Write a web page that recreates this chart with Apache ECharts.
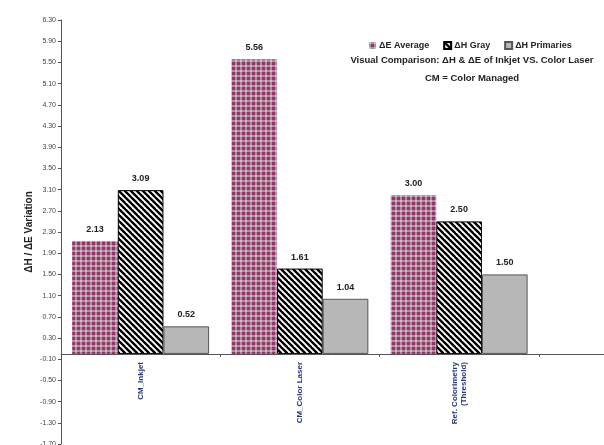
<!DOCTYPE html>
<html>
<head>
<meta charset="utf-8">
<script src="https://cdn.jsdelivr.net/npm/echarts@6/dist/echarts.min.js"></script>
<style>
  html, body { margin: 0; padding: 0; background: #fff; }
  #chart { width: 604px; height: 445px; }
</style>
</head>
<body>
<div id="chart"></div>
<script>
var categories = ['CM_Inkjet', 'CM_Color Laser', 'Ref. Colorimetry\n(Threshold)', ''];
var seriesNames = ['\u0394E Average', '\u0394H Gray', '\u0394H Primaries'];
var avgValues = [2.13, 5.56, 3.00];
var grayValues = [3.09, 1.61, 2.50];
var primValues = [0.52, 1.04, 1.50];
var yTicks = { min: -1.7, max: 6.3, step: 0.4 };

// fill patterns
function makeTile(size, draw) {
	var c = document.createElement('canvas');
	c.width = size; c.height = size;
	draw(c.getContext('2d'), size);
	return c;
}
var dotTile = makeTile(5, function(ctx, s) {
	ctx.fillStyle = '#a32c6a';
	ctx.fillRect(0, 0, s, s);
	ctx.fillStyle = '#a8929f';
	ctx.fillRect(0, 0, s, 2);
	ctx.fillRect(0, 0, 2, s);
	ctx.fillStyle = '#c9bcc4';
	ctx.fillRect(0, 0, 2, 2);
});
var hatchTile = makeTile(6, function(ctx, s) {
	ctx.fillStyle = '#fff';
	ctx.fillRect(0, 0, s, s);
	ctx.strokeStyle = '#000';
	ctx.lineWidth = 2.4;
	for (var k = -1; k <= 1; k++) {
		ctx.beginPath();
		ctx.moveTo(k * s - 1, -1);
		ctx.lineTo(k * s + s + 1, s + 1);
		ctx.stroke();
	}
});

var font = 'Liberation Sans, Arial, sans-serif';
var chart = echarts.init(document.getElementById('chart'));

function barSeries(name, values, itemStyle) {
	return {
		name: name,
		type: 'bar',
		data: values,
		barGap: '0%',
		barCategoryGap: '14%',
		itemStyle: itemStyle,
		label: {
			show: true,
			position: 'top',
			distance: 7,
			fontFamily: font,
			fontWeight: 'bold',
			fontSize: 9,
			color: '#222',
			formatter: function(p) { return p.value.toFixed(2); }
		}
	};
}

chart.setOption({
	animation: false,
	backgroundColor: '#fff',
	title: {
		text: 'Visual Comparison: \u0394H & \u0394E of Inkjet VS. Color Laser',
		subtext: 'CM = Color Managed',
		left: 467,
		textAlign: 'center',
		top: 50,
		itemGap: 8,
		textStyle: { fontFamily: font, fontWeight: 'bold', fontSize: 9.5, color: '#222' },
		subtextStyle: { fontFamily: font, fontWeight: 'bold', fontSize: 9.5, color: '#222' }
	},
	legend: {
		data: seriesNames,
		left: 364,
		top: 36,
		itemWidth: 7,
		itemHeight: 7,
		itemGap: 14,
		icon: 'rect',
		textStyle: { fontFamily: font, fontWeight: 'bold', fontSize: 9, color: '#222', padding: [0, 0, 0, -2] }
	},
	grid: {
		left: 61,
		top: 20,
		width: 637,
		bottom: 1,
		outerBoundsMode: 'none'
	},
	xAxis: {
		type: 'category',
		data: categories,
		axisLine: { onZero: true, lineStyle: { color: '#555', width: 1 } },
		axisTick: { show: true, length: 3, lineStyle: { color: '#555' } },
		axisLabel: {
			show: true,
			interval: 0,
			rotate: 90,
			margin: -82,
			fontFamily: font,
			fontWeight: 'bold',
			fontSize: 8,
			lineHeight: 9,
			color: '#24397a'
		}
	},
	yAxis: {
		type: 'value',
		min: yTicks.min,
		max: yTicks.max,
		interval: yTicks.step,
		name: '\u0394H / \u0394E Variation',
		nameLocation: 'middle',
		nameGap: 27,
		nameMoveOverlap: false,
		nameTextStyle: { fontFamily: font, fontWeight: 'bold', fontSize: 10, color: '#222' },
		axisLine: { show: true, lineStyle: { color: '#555' } },
		axisTick: { show: true, length: 3, lineStyle: { color: '#555' } },
		splitLine: { show: false },
		axisLabel: {
			fontFamily: font,
			fontSize: 7,
			color: '#444',
			margin: 5,
			formatter: function(v) { return v.toFixed(2); }
		}
	},
	series: [
		barSeries(seriesNames[0], avgValues, { color: { image: dotTile, repeat: 'repeat' } }),
		barSeries(seriesNames[1], grayValues, { color: { image: hatchTile, repeat: 'repeat' }, borderColor: '#000', borderWidth: 1 }),
		barSeries(seriesNames[2], primValues, { color: '#b7b7b7', borderColor: '#555', borderWidth: 1 })
	]
});
</script>
</body>
</html>
